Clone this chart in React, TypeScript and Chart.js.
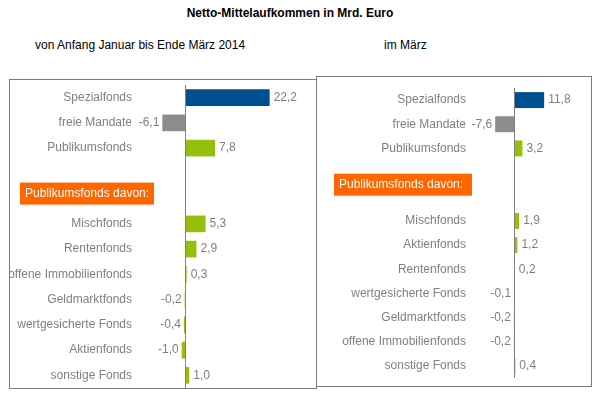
import React, { useEffect, useRef } from "react";
import { Chart, registerables } from "chart.js";

Chart.register(...registerables);

const leftCategories = [
  "Spezialfonds",
  "freie Mandate",
  "Publikumsfonds",
  "",
  "",
  "Mischfonds",
  "Rentenfonds",
  "offene Immobilienfonds",
  "Geldmarktfonds",
  "wertgesicherte Fonds",
  "Aktienfonds",
  "sonstige Fonds",
];
const leftValues: (number | null)[] = [22.2, -6.1, 7.8, null, null, 5.3, 2.9, 0.3, -0.2, -0.4, -1.0, 1.0];

const rightCategories = [
  "Spezialfonds",
  "freie Mandate",
  "Publikumsfonds",
  "",
  "",
  "Mischfonds",
  "Aktienfonds",
  "Rentenfonds",
  "wertgesicherte Fonds",
  "Geldmarktfonds",
  "offene Immobilienfonds",
  "sonstige Fonds",
];
const rightValues: (number | null)[] = [11.8, -7.6, 3.2, null, null, 1.9, 1.2, 0.2, -0.1, -0.2, -0.2, 0.4];

const barColors = ["#00508f", "#8c8c8c", "#96bf0d", "#96bf0d", "#96bf0d", "#96bf0d", "#96bf0d", "#96bf0d", "#96bf0d", "#96bf0d", "#96bf0d", "#96bf0d"];

const headerLabel = "Publikumsfonds davon:";
const FONT = "'Liberation Sans', Arial, sans-serif";
const TEXT = "#7d7f85";

function fmt(v: number) {
  return v.toFixed(1).replace(".", ",");
}

type PanelCfg = {
  labels: string[];
  values: (number | null)[];
  min: number;
  max: number;
  axisWidth: number;
  padding: { top: number; bottom: number; right: number };
  headerRow: number;
  headerX: number;
  headerW: number;
};

function makeChart(canvas: HTMLCanvasElement, cfg: PanelCfg) {
  const overlay = {
    id: "overlay",
    afterDatasetsDraw(chart: any) {
      const ctx = chart.ctx;
      const xs = chart.scales.x;
      const ys = chart.scales.y;
      const area = chart.chartArea;
      const x0 = Math.round(xs.getPixelForValue(0)) + 0.5;
      ctx.save();
      ctx.strokeStyle = "#808080";
      ctx.lineWidth = 1;
      ctx.beginPath();
      ctx.moveTo(x0, area.top);
      ctx.lineTo(x0, area.bottom);
      ctx.stroke();
      // value labels
      ctx.font = `12px ${FONT}`;
      ctx.fillStyle = TEXT;
      ctx.textBaseline = "middle";
      const meta = chart.getDatasetMeta(0);
      cfg.values.forEach((v, i) => {
        if (v === null) return;
        const el = meta.data[i];
        if (v >= 0) {
          ctx.textAlign = "left";
          ctx.fillText(fmt(v), el.x + 4, el.y);
        } else {
          ctx.textAlign = "right";
          ctx.fillText(fmt(v), el.x - 3, el.y);
        }
      });
      // header
      const hy = ys.getPixelForValue(cfg.headerRow);
      ctx.fillStyle = "#ff6600";
      ctx.fillRect(cfg.headerX, hy - 11, cfg.headerW, 22);
      ctx.fillStyle = "#ffffff";
      ctx.textAlign = "left";
      ctx.fillText(headerLabel, cfg.headerX + 5, hy);
      ctx.restore();
    },
  };

  return new Chart(canvas, {
    type: "bar",
    data: {
      labels: cfg.labels,
      datasets: [
        {
          data: cfg.values,
          backgroundColor: barColors,
          borderWidth: 0,
          barPercentage: 0.66,
          categoryPercentage: 1,
        },
      ],
    },
    options: {
      indexAxis: "y",
      animation: false,
      responsive: false,
      maintainAspectRatio: false,
      layout: { padding: { left: 0, top: cfg.padding.top, bottom: cfg.padding.bottom, right: cfg.padding.right } },
      plugins: { legend: { display: false }, tooltip: { enabled: false }, title: { display: false } },
      scales: {
        x: {
          display: false,
          min: cfg.min,
          max: cfg.max,
        },
        y: {
          grid: { display: false, drawTicks: false },
          border: { display: false },
          ticks: { color: TEXT, font: { family: FONT, size: 12 }, padding: 8, autoSkip: false },
          afterFit: (axis: any) => {
            axis.width = cfg.axisWidth;
            axis.paddingTop = 0;
            axis.paddingBottom = 0;
          },
        },
      },
    },
    plugins: [overlay],
  } as any);
}

export default function App() {
  const leftRef = useRef<HTMLCanvasElement>(null);
  const rightRef = useRef<HTMLCanvasElement>(null);

  useEffect(() => {
    const c1 = makeChart(leftRef.current!, {
      labels: leftCategories,
      values: leftValues,
      min: -12,
      max: 31,
      axisWidth: 130,
      padding: { top: 6, bottom: 0, right: 12 },
      headerRow: 3.8,
      headerX: 10,
      headerW: 134,
    });
    const c2 = makeChart(rightRef.current!, {
      labels: rightCategories,
      values: rightValues,
      min: -16,
      max: 28,
      axisWidth: 157,
      padding: { top: 12, bottom: 8, right: 4 },
      headerRow: 3.5,
      headerX: 17,
      headerW: 138,
    });
    return () => {
      c1.destroy();
      c2.destroy();
    };
  }, []);

  return (
    <div style={{ position: "fixed", left: 0, top: 0, width: 598, height: 398, background: "#fff", fontFamily: FONT }}>
      <div style={{ position: "absolute", left: 0, width: 580, top: 6, textAlign: "center", fontWeight: "bold", fontSize: 12, color: "#000" }}>
        Netto-Mittelaufkommen in Mrd. Euro
      </div>
      <div style={{ position: "absolute", left: 35, top: 38, fontSize: 12, color: "#000" }}>von Anfang Januar bis Ende März 2014</div>
      <div style={{ position: "absolute", left: 384, top: 38, fontSize: 12, color: "#000" }}>im März</div>
      <div style={{ position: "absolute", left: 9, top: 79, width: 306, height: 308, border: "1px solid #7a7a7a" }} />
      <div style={{ position: "absolute", left: 316, top: 76, width: 274, height: 309, border: "1px solid #7a7a7a" }} />
      <canvas ref={leftRef} width={305} height={309} style={{ position: "absolute", left: 10, top: 79, width: 305, height: 309 }} />
      <canvas ref={rightRef} width={272} height={310} style={{ position: "absolute", left: 317, top: 76, width: 272, height: 310 }} />
    </div>
  );
}
